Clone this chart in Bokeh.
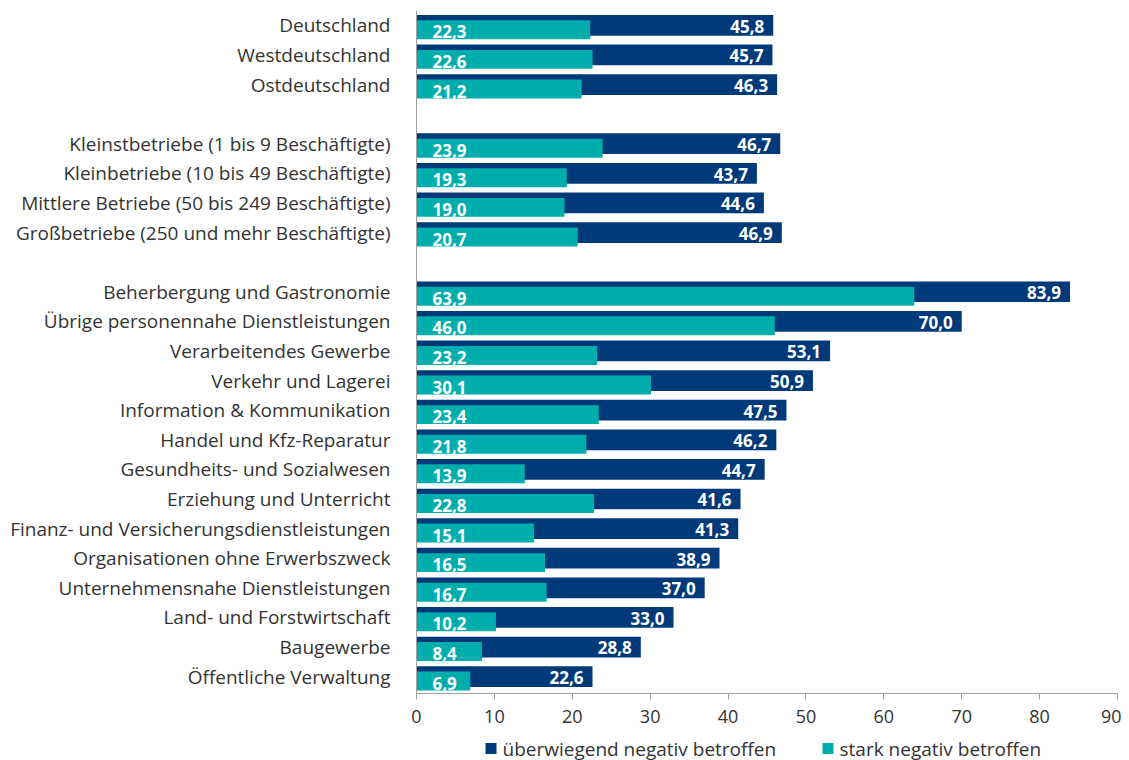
from bokeh.plotting import figure
from bokeh.layouts import column
from bokeh.models import Range1d, FixedTicker, ColumnDataSource
from bokeh.core.properties import value
from bokeh.embed import file_html
from bokeh.resources import INLINE

groups = [
    ["Deutschland", "Westdeutschland", "Ostdeutschland"],
    ["Kleinstbetriebe (1 bis 9 Beschäftigte)", "Kleinbetriebe (10 bis 49 Beschäftigte)",
     "Mittlere Betriebe (50 bis 249 Beschäftigte)", "Großbetriebe (250 und mehr Beschäftigte)"],
    ["Beherbergung und Gastronomie", "Übrige personennahe Dienstleistungen",
     "Verarbeitendes Gewerbe", "Verkehr und Lagerei", "Information & Kommunikation",
     "Handel und Kfz-Reparatur", "Gesundheits- und Sozialwesen", "Erziehung und Unterricht",
     "Finanz- und Versicherungsdienstleistungen", "Organisationen ohne Erwerbszweck",
     "Unternehmensnahe Dienstleistungen", "Land- und Forstwirtschaft", "Baugewerbe",
     "Öffentliche Verwaltung"],
]
ueberwiegend = [45.8, 45.7, 46.3,
                46.7, 43.7, 44.6, 46.9,
                83.9, 70.0, 53.1, 50.9, 47.5, 46.2, 44.7, 41.6, 41.3, 38.9, 37.0, 33.0, 28.8, 22.6]
stark = [22.3, 22.6, 21.2,
         23.9, 19.3, 19.0, 20.7,
         63.9, 46.0, 23.2, 30.1, 23.4, 21.8, 13.9, 22.8, 15.1, 16.5, 16.7, 10.2, 8.4, 6.9]
x_ticks = [0, 10, 20, 30, 40, 50, 60, 70, 80, 90]
series_names = ["überwiegend negativ betroffen", "stark negativ betroffen"]

NAVY = "#003a7a"
TEAL = "#00adad"
TEXT = "#333333"
FONT = "Open Sans"

categories = []
pos = []
r = 0
for gi, g in enumerate(groups):
    for name in g:
        categories.append(name)
        pos.append(r)
        r += 1
    r += 1

fmt = lambda v: f"{v:.1f}".replace(".", ",")

src = ColumnDataSource(dict(
    y=pos,
    y2=[p + 0.15 for p in pos],
    yl1=[p + 0.03 for p in pos],
    yl2=[p + 0.22 for p in pos],
    u=ueberwiegend,
    s=stark,
    ut=[fmt(v) for v in ueberwiegend],
    st=[fmt(v) for v in stark],
    zero=[0] * len(pos),
))

W = 1121
LEFT, RIGHT = 416, 4
p = figure(width=W, height=734, output_backend="svg", toolbar_location=None,
           x_range=Range1d(0, 90), y_range=Range1d(22.57, -0.5),
           min_border_left=LEFT, min_border_right=RIGHT, min_border_top=10, min_border_bottom=41)
p.outline_line_color = None
p.grid.visible = False
p.background_fill_color = "white"

navy = p.hbar(y="y", left="zero", right="u", height=0.70, source=src,
              fill_color=NAVY, line_color=None)
teal = p.hbar(y="y2", left="zero", right="s", height=0.64, source=src,
              fill_color=TEAL, line_color=None)

p.text(x="u", y="yl1", text="ut", source=src, x_offset=-9, text_align="right",
       text_baseline="middle", text_color="white", text_font=value(FONT),
       text_font_style="bold", text_font_size="17px")
p.text(x="zero", y="yl2", text="st", source=src, x_offset=16, text_align="left",
       text_baseline="middle", text_color="white", text_font=value(FONT),
       text_font_style="bold", text_font_size="17px")

xa = p.xaxis[0]
xa.ticker = FixedTicker(ticks=x_ticks)
xa.axis_line_color = "#a0a0a0"
xa.major_tick_line_color = "#a0a0a0"
xa.major_tick_out = 6
xa.major_tick_in = 0
xa.minor_tick_line_color = None
xa.major_label_text_font = FONT
xa.major_label_text_font_size = "18px"
xa.major_label_text_color = TEXT
xa.major_label_standoff = 10

ya = p.yaxis[0]
ya.ticker = FixedTicker(ticks=pos)
ya.major_label_overrides = {pp: c for pp, c in zip(pos, categories)}
ya.axis_line_color = "#a0a0a0"
ya.major_tick_line_color = None
ya.minor_tick_line_color = None
ya.major_label_text_font = FONT
ya.major_label_text_font_size = "19px"
ya.major_label_text_color = TEXT
ya.major_label_standoff = 20

# legend strip: frame aligned with main frame, x in page pixels
LH = 26
lg = figure(width=W, height=LH, output_backend="svg", toolbar_location=None,
            x_range=Range1d(LEFT, W - RIGHT), y_range=Range1d(LH, 0),
            min_border_left=LEFT, min_border_right=RIGHT, min_border_top=0, min_border_bottom=0)
lg.axis.visible = False
lg.grid.visible = False
lg.outline_line_color = None
leg_src = ColumnDataSource(dict(
    sx=[490.5, 827.5], tx=[502, 839], y=[14, 14],
    c=[NAVY, TEAL], t=series_names,
))
lg.scatter(x="sx", y="y", marker="square", size=11, fill_color="c", line_color=None, source=leg_src)
lg.text(x="tx", y="y", text="t", text_baseline="middle", text_align="left",
        text_font=value(FONT), text_font_size="19px", text_color=TEXT, source=leg_src)

layout = column(p, lg, spacing=0)
open("out.html", "w").write(file_html(layout, INLINE))
